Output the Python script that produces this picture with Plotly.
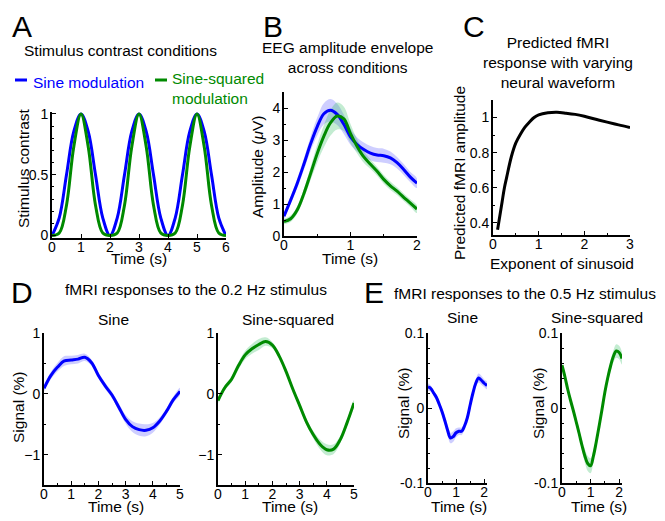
import plotly.graph_objects as go

W, H = 665, 521
FONT = "Liberation Sans, Arial, sans-serif"
BLUE = "#0000ff"
GREEN = "#008a00"
BLUE_BAND = "rgba(60,60,255,0.25)"
GREEN_BAND = "rgba(40,185,90,0.28)"

# ---------------- Panel A: stimulus contrast ----------------
t_A = [0, 0.25, 0.5, 0.75, 1, 1.25, 1.5, 1.75, 2, 2.25, 2.5, 2.75, 3,
       3.25, 3.5, 3.75, 4, 4.25, 4.5, 4.75, 5, 5.25, 5.5, 5.75, 6]
sine_A = [0, 0.146, 0.5, 0.854, 1, 0.854, 0.5, 0.146, 0, 0.146, 0.5, 0.854, 1,
          0.854, 0.5, 0.146, 0, 0.146, 0.5, 0.854, 1, 0.854, 0.5, 0.146, 0]
sinesq_A = [0, 0.021, 0.25, 0.729, 1, 0.729, 0.25, 0.021, 0, 0.021, 0.25, 0.729, 1,
            0.729, 0.25, 0.021, 0, 0.021, 0.25, 0.729, 1, 0.729, 0.25, 0.021, 0]

# ---------------- Panel B: EEG amplitude envelope ----------------
t_B = [0, 0.1, 0.2, 0.3, 0.4, 0.5, 0.6, 0.7, 0.8, 0.9, 1.0,
       1.1, 1.2, 1.3, 1.4, 1.5, 1.6, 1.7, 1.8, 1.9, 2.0]
eeg_sine = [0.62, 1.12, 1.65, 2.25, 2.88, 3.42, 3.82, 3.93, 3.80, 3.49, 3.10,
            2.86, 2.70, 2.59, 2.53, 2.51, 2.44, 2.29, 2.08, 1.84, 1.65]
eeg_sine_err = [0.10, 0.12, 0.15, 0.18, 0.22, 0.28, 0.33, 0.35, 0.33, 0.30, 0.25,
                0.22, 0.22, 0.22, 0.22, 0.22, 0.20, 0.18, 0.17, 0.16, 0.15]
eeg_sq = [0.45, 0.54, 0.82, 1.33, 1.95, 2.58, 3.12, 3.54, 3.75, 3.66, 3.20,
          2.80, 2.47, 2.24, 2.02, 1.77, 1.57, 1.40, 1.21, 1.03, 0.84]
eeg_sq_err = [0.08, 0.10, 0.12, 0.15, 0.20, 0.28, 0.35, 0.40, 0.42, 0.38, 0.30,
              0.22, 0.18, 0.15, 0.14, 0.14, 0.13, 0.12, 0.12, 0.12, 0.12]

# ---------------- Panel C: predicted fMRI amplitude ----------------
exp_C = [0.1, 0.15, 0.2, 0.25, 0.3, 0.4, 0.5, 0.6, 0.7, 0.8, 0.9, 1.0,
         1.2, 1.4, 1.6, 1.8, 2.0, 2.25, 2.5, 2.75, 3.0]
amp_C = [0.36, 0.44, 0.52, 0.60, 0.66, 0.775, 0.855, 0.905, 0.945, 0.975, 1.0, 1.015,
         1.027, 1.03, 1.025, 1.018, 1.007, 0.99, 0.974, 0.958, 0.943]

# ---------------- Panel D: 0.2 Hz responses ----------------
t_D = [0, 0.25, 0.5, 0.75, 1.0, 1.25, 1.5, 1.75, 2.0, 2.25, 2.5,
       2.75, 3.0, 3.25, 3.5, 3.75, 4.0, 4.25, 4.5, 4.75, 5.0]
D_sine = [0.09, 0.30, 0.44, 0.54, 0.555, 0.57, 0.60, 0.51, 0.30, 0.13, -0.02,
          -0.22, -0.42, -0.54, -0.59, -0.60, -0.56, -0.45, -0.29, -0.10, 0.04]
D_sine_err = [0.05, 0.06, 0.07, 0.08, 0.07, 0.07, 0.06, 0.05, 0.05, 0.05, 0.05,
              0.06, 0.07, 0.09, 0.10, 0.10, 0.08, 0.06, 0.05, 0.05, 0.06]
D_sq = [-0.11, 0.10, 0.24, 0.46, 0.64, 0.74, 0.81, 0.86, 0.80, 0.62, 0.37,
        0.08, -0.19, -0.46, -0.67, -0.83, -0.92, -0.91, -0.75, -0.47, -0.15]
D_sq_err = [0.04, 0.04, 0.05, 0.06, 0.07, 0.08, 0.09, 0.07, 0.05, 0.04, 0.04,
            0.04, 0.05, 0.05, 0.06, 0.08, 0.09, 0.08, 0.06, 0.05, 0.05]

# ---------------- Panel E: 0.5 Hz responses ----------------
t_E = [0, 0.1, 0.2, 0.3, 0.4, 0.5, 0.6, 0.7, 0.8, 0.9, 1.0,
       1.1, 1.2, 1.3, 1.4, 1.5, 1.6, 1.7, 1.8, 1.9, 2.0, 2.1]
E_sine = [0.028, 0.026, 0.020, 0.014, 0.005, -0.005, -0.017, -0.030, -0.040, -0.038, -0.033,
          -0.031, -0.031, -0.024, -0.013, 0.004, 0.020, 0.033, 0.040, 0.037, 0.033, 0.030]
E_sine_err = [0.005, 0.004, 0.004, 0.004, 0.004, 0.005, 0.006, 0.007, 0.007, 0.007, 0.006,
              0.005, 0.005, 0.004, 0.004, 0.004, 0.005, 0.005, 0.006, 0.006, 0.005, 0.005]
E_sq = [0.057, 0.042, 0.025, 0.010, -0.004, -0.019, -0.034, -0.050, -0.064, -0.074, -0.077,
        -0.064, -0.045, -0.024, -0.002, 0.021, 0.040, 0.056, 0.069, 0.076, 0.074, 0.066]
E_sq_err = [0.004, 0.004, 0.004, 0.005, 0.005, 0.005, 0.006, 0.007, 0.009, 0.010, 0.010,
            0.008, 0.006, 0.005, 0.005, 0.005, 0.006, 0.007, 0.008, 0.009, 0.009, 0.008]

fig = go.Figure()


def band(x, y, err, color, ax):
    up = [a + b for a, b in zip(y, err)]
    lo = [a - b for a, b in zip(y, err)]
    fig.add_trace(go.Scatter(x=list(x) + list(x)[::-1], y=up + lo[::-1],
                             fill="toself", fillcolor=color, line=dict(width=0, shape="spline"),
                             mode="lines", hoverinfo="skip", showlegend=False,
                             xaxis="x" + ax, yaxis="y" + ax))


def line(x, y, color, ax, width=3):
    fig.add_trace(go.Scatter(x=x, y=y, mode="lines", line=dict(color=color, width=width, shape="spline"),
                             showlegend=False, xaxis="x" + ax, yaxis="y" + ax))


# A
line(t_A, sine_A, BLUE, "")
line(t_A, sinesq_A, GREEN, "")
# B
band(t_B, eeg_sine, eeg_sine_err, BLUE_BAND, "2")
band(t_B, eeg_sq, eeg_sq_err, GREEN_BAND, "2")
line(t_B, eeg_sine, BLUE, "2")
line(t_B, eeg_sq, GREEN, "2")
# C
line(exp_C, amp_C, "black", "3")
# D
band(t_D, D_sine, D_sine_err, BLUE_BAND, "4")
line(t_D, D_sine, BLUE, "4")
band(t_D, D_sq, D_sq_err, GREEN_BAND, "5")
line(t_D, D_sq, GREEN, "5")
# E
band(t_E, E_sine, E_sine_err, BLUE_BAND, "6")
line(t_E, E_sine, BLUE, "6")
band(t_E, E_sq, E_sq_err, GREEN_BAND, "7")
line(t_E, E_sq, GREEN, "7")


def dom_x(a, b):
    return [a / W, b / W]


def dom_y(top, bottom):
    return [1 - bottom / H, 1 - top / H]


tickfont = dict(family=FONT, size=14, color="black")


def axis(domain, rng, tickvals, ticktext=None, minor_dtick=None, anchor=None, standoff=0):
    d = dict(domain=domain, range=rng, tickvals=tickvals, showline=True, linecolor="black",
             linewidth=2, ticks="inside", ticklen=4, tickwidth=1, tickcolor="black",
             showgrid=False, zeroline=False, tickfont=tickfont, anchor=anchor,
             ticklabelstandoff=standoff, fixedrange=True, automargin=False)
    if ticktext is not None:
        d["ticktext"] = ticktext
    if minor_dtick is not None:
        d["minor"] = dict(ticks="inside", ticklen=2, tickwidth=1, tickcolor="black",
                          dtick=minor_dtick, tick0=0, showgrid=False)
    return d


XS, YS = -5, -1
layout_axes = {}
# A
layout_axes["xaxis"] = axis(dom_x(52, 226), [0, 6], [0, 1, 2, 3, 4, 5, 6], anchor="y", standoff=XS)
layout_axes["yaxis"] = axis(dom_y(111.5, 238), [-0.02, 1.02], [0, 0.5, 1], ["0", "0.5", "1"], 0.1, anchor="x", standoff=YS)
# B
layout_axes["xaxis2"] = axis(dom_x(284, 417), [0, 2], [0, 1, 2], minor_dtick=0.5, anchor="y2", standoff=XS)
layout_axes["yaxis2"] = axis(dom_y(92, 236), [0, 4.5], [0, 1, 2, 3, 4], minor_dtick=0.5, anchor="x2", standoff=YS)
# C
layout_axes["xaxis3"] = axis(dom_x(493, 630), [0, 3], [0, 1, 2, 3], minor_dtick=0.5, anchor="y3", standoff=XS)
layout_axes["yaxis3"] = axis(dom_y(100, 235), [0.33, 1.1], [0.4, 0.6, 0.8, 1], ["0.4", "0.6", "0.8", "1"], 0.1, anchor="x3", standoff=YS)
# D
layout_axes["xaxis4"] = axis(dom_x(44, 180), [0, 5], [0, 1, 2, 3, 4, 5], minor_dtick=0.5, anchor="y4", standoff=XS)
layout_axes["yaxis4"] = axis(dom_y(333, 485), [-1.5, 1], [-1, 0, 1], ["\u22121", "0", "1"], 0.5, anchor="x4", standoff=YS)
layout_axes["xaxis5"] = axis(dom_x(218, 354), [0, 5], [0, 1, 2, 3, 4, 5], minor_dtick=0.5, anchor="y5", standoff=XS)
layout_axes["yaxis5"] = axis(dom_y(333, 485), [-1.5, 1], [-1, 0, 1], ["\u22121", "0", "1"], 0.5, anchor="x5", standoff=YS)
# E
layout_axes["xaxis6"] = axis(dom_x(428, 487), [0, 2.1], [0, 1, 2], minor_dtick=0.5, anchor="y6", standoff=XS)
layout_axes["yaxis6"] = axis(dom_y(333, 483), [-0.1, 0.1], [-0.1, 0, 0.1], ["-0.1", "0", "0.1"], 0.02, anchor="x6", standoff=YS)
layout_axes["xaxis7"] = axis(dom_x(562, 622), [0, 2.1], [0, 1, 2], minor_dtick=0.5, anchor="y7", standoff=XS)
layout_axes["yaxis7"] = axis(dom_y(333, 483), [-0.1, 0.1], [-0.1, 0, 0.1], ["-0.1", "0", "0.1"], 0.02, anchor="x7", standoff=YS)

fig.update_layout(width=W, height=H, margin=dict(l=0, r=0, t=0, b=0, autoexpand=False),
                  paper_bgcolor="white", plot_bgcolor="white", showlegend=False,
                  font=dict(family=FONT, color="black"), **layout_axes)

LAB = 15.5


def ann(text, x, y, size=LAB, color="black", angle=0, xanchor="center", yanchor="middle", align="center"):
    fig.add_annotation(text=text, x=x / W, y=1 - y / H, xref="paper", yref="paper", showarrow=False,
                       font=dict(family=FONT, size=size, color=color), textangle=angle,
                       xanchor=xanchor, yanchor=yanchor, align=align)


# panel letters
for letter, lx, ly in [("A", 22, 27), ("B", 273, 27), ("C", 474, 27), ("D", 22, 292), ("E", 374, 292)]:
    ann(letter, lx, ly, size=30)

# Panel A texts
ann("Stimulus contrast conditions", 120, 50)
fig.add_shape(type="line", xref="paper", yref="paper", x0=15 / W, x1=27 / W, y0=1 - 80 / H, y1=1 - 80 / H,
              line=dict(color=BLUE, width=3))
ann("Sine modulation", 31, 83, color=BLUE, xanchor="left")
fig.add_shape(type="line", xref="paper", yref="paper", x0=155 / W, x1=167 / W, y0=1 - 80 / H, y1=1 - 80 / H,
              line=dict(color=GREEN, width=3))
ann("Sine-squared<br>modulation", 170, 88.5, color=GREEN, xanchor="left", align="left")
ann("Stimulus contrast", 23, 168, angle=-90)
ann("Time (s)", 139, 258)

# Panel B texts
ann("EEG amplitude envelope<br>across conditions", 347, 57.5)
ann("Amplitude (<i>\u03bc</i>V)", 257, 167, angle=-90)
ann("Time (s)", 350, 258)

# Panel C texts
ann("Predicted fMRI<br>response with varying<br>neural waveform", 558, 62.5)
ann("Predicted fMRI amplitude", 459, 173, angle=-90)
ann("Exponent of sinusoid", 562, 263)

# Panel D texts
ann("fMRI responses to the 0.2 Hz stimulus", 196, 289)
ann("Sine", 113, 319)
ann("Sine-squared", 288, 319)
ann("Signal (%)", 18, 407, angle=-90)
ann("Time (s)", 116, 506)
ann("Time (s)", 290, 506)

# Panel E texts
ann("fMRI responses to the 0.5 Hz stimulus", 525, 293)
ann("Sine", 462, 317)
ann("Sine-squared", 597, 317)
ann("Signal (%)", 403, 403, angle=-90)
ann("Signal (%)", 538, 403, angle=-90)
ann("Time (s)", 459, 506)
ann("Time (s)", 599, 506)

fig.write_html("out.html", config={"displayModeBar": False},
               post_script="document.body.style.margin='0';document.body.style.overflow='hidden';")
